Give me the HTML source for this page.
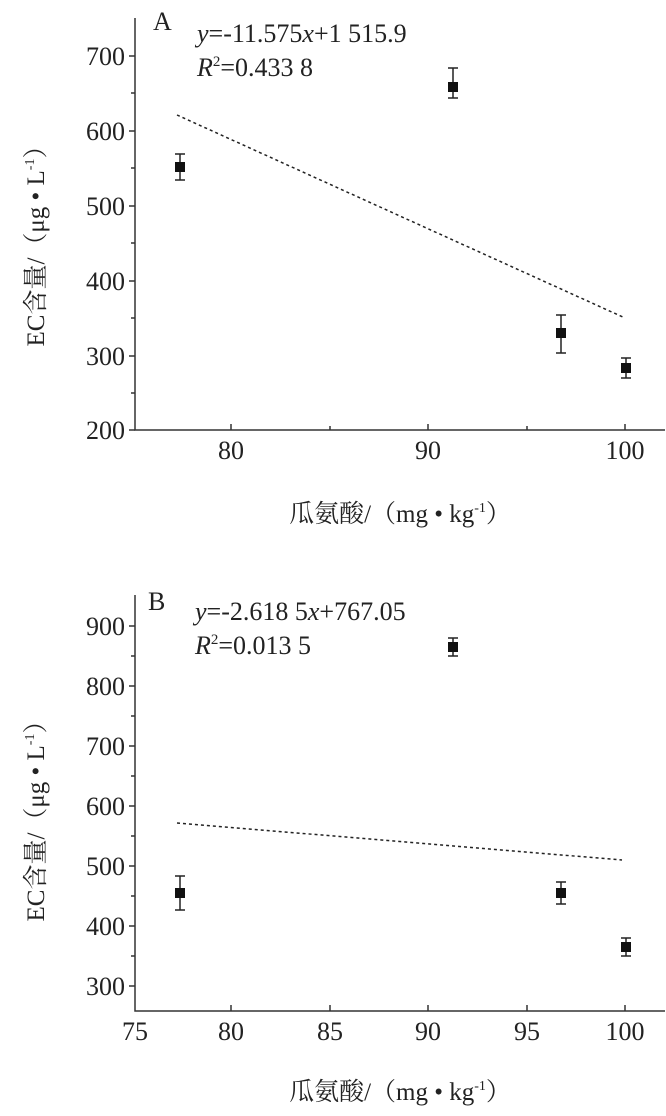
<!DOCTYPE html><html><head><style>body{margin:0;background:#fff}</style></head><body>
<svg width="666" height="1111" xmlns="http://www.w3.org/2000/svg" font-family="Liberation Serif, Noto Serif CJK SC, serif" fill="#222">
<g stroke="#333" stroke-width="1.5" fill="none">
<path d="M135,18V430H665"/>
<path d="M129,56h6M129,131h6M129,206h6M129,281h6M129,356h6M129,430h6M131,93h4M131,168h4M131,243h4M131,318h4M131,393h4"/>
<path d="M231,430v-6M428,430v-6M625,430v-6M330,430v-4M527,430v-4"/>
<path d="M135,595V1011H665"/>
<path d="M129,626h6M129,686h6M129,746h6M129,806h6M129,866h6M129,926h6M129,986h6M131,656h4M131,716h4M131,776h4M131,836h4M131,896h4M131,956h4"/>
<path d="M231,1011v-6M330,1011v-6M428,1011v-6M527,1011v-6M625,1011v-6"/>
</g>
<g font-size="26" text-anchor="end">
<text x="125" y="65">700</text><text x="125" y="140">600</text><text x="125" y="215">500</text><text x="125" y="290">400</text><text x="125" y="365">300</text><text x="125" y="439">200</text>
<text x="125" y="635">900</text><text x="125" y="695">800</text><text x="125" y="755">700</text><text x="125" y="815">600</text><text x="125" y="875">500</text><text x="125" y="935">400</text><text x="125" y="995">300</text>
</g>
<g font-size="26" text-anchor="middle">
<text x="231" y="459">80</text><text x="428" y="459">90</text><text x="625" y="459">100</text>
<text x="135" y="1040">75</text><text x="231" y="1040">80</text><text x="330" y="1040">85</text><text x="428" y="1040">90</text><text x="527" y="1040">95</text><text x="625" y="1040">100</text>
</g>
<g font-size="25" text-anchor="middle">
<text x="400" y="522">瓜氨酸/（mg • kg<tspan font-size="14" dy="-10">-1</tspan><tspan dy="10">）</tspan></text>
<text x="400" y="1100">瓜氨酸/（mg • kg<tspan font-size="14" dy="-10">-1</tspan><tspan dy="10">）</tspan></text>
<text transform="translate(44,240) rotate(-90)">EC含量/（μg • L<tspan font-size="14" dy="-10">-1</tspan><tspan dy="10">）</tspan></text>
<text transform="translate(44,815) rotate(-90)">EC含量/（μg • L<tspan font-size="14" dy="-10">-1</tspan><tspan dy="10">）</tspan></text>
</g>
<g font-size="26">
<text x="153" y="30">A</text>
<text x="197" y="42"><tspan font-style="italic">y</tspan>=-11.575<tspan font-style="italic">x</tspan>+1 515.9</text>
<text x="197" y="76"><tspan font-style="italic">R</tspan><tspan font-size="15" dy="-10">2</tspan><tspan dy="10">=0.433 8</tspan></text>
<text x="148" y="610">B</text>
<text x="195" y="620"><tspan font-style="italic">y</tspan>=-2.618 5<tspan font-style="italic">x</tspan>+767.05</text>
<text x="195" y="654"><tspan font-style="italic">R</tspan><tspan font-size="15" dy="-10">2</tspan><tspan dy="10">=0.013 5</tspan></text>
</g>
<g stroke="#222" stroke-width="1.5" fill="none">
<path d="M177,115L625,318M177,823L622,860" stroke-dasharray="3,3"/>
<path d="M180,154v26M175,154h10M175,180h10 M453,68v30M448,68h10M448,98h10 M561,315v38M556,315h10M556,353h10 M626,358v20M621,358h10M621,378h10"/>
<path d="M180,876v34M175,876h10M175,910h10 M453,638v18M448,638h10M448,656h10 M561,882v22M556,882h10M556,904h10 M626,938v18M621,938h10M621,956h10"/>
</g>
<g fill="#111">
<rect x="175" y="162" width="10" height="10"/><rect x="448" y="82" width="10" height="10"/><rect x="556" y="328" width="10" height="10"/><rect x="621" y="363" width="10" height="10"/>
<rect x="175" y="888" width="10" height="10"/><rect x="448" y="642" width="10" height="10"/><rect x="556" y="888" width="10" height="10"/><rect x="621" y="942" width="10" height="10"/>
</g>
</svg></body></html>
